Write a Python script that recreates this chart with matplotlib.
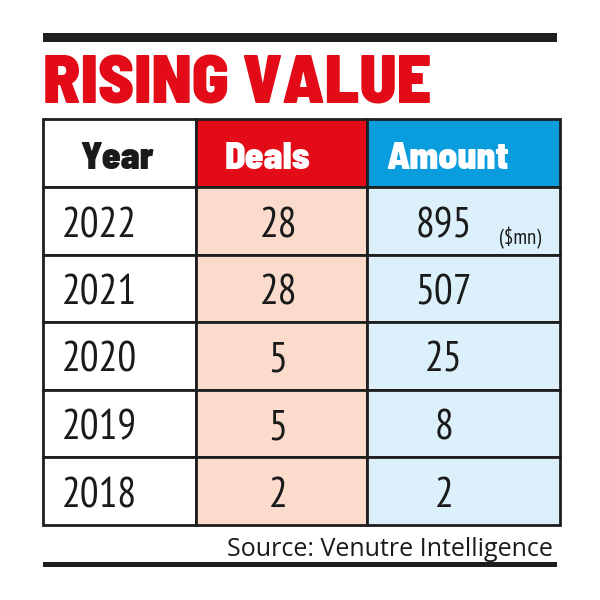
import matplotlib.pyplot as plt
from matplotlib.patches import Rectangle

TITLE = "RISING VALUE"
HEADERS = ["Year", "Deals", "Amount"]
YEARS = ["2022", "2021", "2020", "2019", "2018"]
DEALS = [28, 28, 5, 5, 2]
AMOUNT = [895, 507, 25, 8, 2]
UNIT = "($mn)"
SOURCE = "Source: Venutre Intelligence"

RED = "#e30b17"
BLUE = "#0a9ddd"
PEACH = "#fbdccc"
LIGHTBLUE = "#dcf0fc"
LINE = "#1e1e1e"
HEAVY = ["Barlow Semi Condensed", "DejaVu Sans"]
NARROW = ["PT Sans Narrow", "DejaVu Sans"]

# layout in pixel units (600x600 canvas)
COL_X = [43, 196, 367, 560]
HEAD_TOP, HEAD_BOT = 119, 187
ROW_H = 67.5

fig = plt.figure(figsize=(6, 6), dpi=100)
ax = fig.add_axes([0, 0, 1, 1])
ax.set_xlim(0, 600)
ax.set_ylim(600, 0)
ax.axis("off")

# top and bottom rules
ax.add_patch(Rectangle((43, 33), 514, 9, color=LINE, lw=0))
ax.add_patch(Rectangle((43, 562), 514, 5, color=LINE, lw=0))

ax.text(43, 103, TITLE, color=RED, fontsize=49, fontweight=900,
        family=HEAVY, va="baseline", ha="left")

# header row
head_fill = ["white", RED, BLUE]
head_color = ["#1a1a1a", "white", "white"]
head_cx = [117, 268, 448]
for i in range(3):
    ax.add_patch(Rectangle((COL_X[i], HEAD_TOP), COL_X[i + 1] - COL_X[i],
                           HEAD_BOT - HEAD_TOP, facecolor=head_fill[i],
                           edgecolor=LINE, lw=2))
    ax.text(head_cx[i], 169, HEADERS[i],
            color=head_color[i], fontsize=27, fontweight=900,
            family=HEAVY, ha="center", va="baseline")

# body rows
body_fill = ["white", PEACH, LIGHTBLUE]
for r, (yr, d, a) in enumerate(zip(YEARS, DEALS, AMOUNT)):
    top = HEAD_BOT + r * ROW_H
    for i in range(3):
        ax.add_patch(Rectangle((COL_X[i], top), COL_X[i + 1] - COL_X[i],
                               ROW_H, facecolor=body_fill[i],
                               edgecolor=LINE, lw=2))
    base = top + 50
    ax.text(62, base, yr, fontsize=30, family=NARROW, color="#1a1a1a",
            ha="left", va="baseline")
    ax.text(278, base, str(d), fontsize=30, family=NARROW, color="#1a1a1a",
            ha="center", va="baseline")
    ax.text(444, base, str(a), fontsize=30, family=NARROW, color="#1a1a1a",
            ha="center", va="baseline")
    if r == 0:
        ax.text(520, top + 57, UNIT, fontsize=15, family=NARROW,
                color="#1a1a1a", ha="center", va="baseline")

ax.text(553, 556, SOURCE, fontsize=18, family=["Open Sans", "DejaVu Sans"],
        color="#1a1a1a", ha="right", va="baseline")

fig.savefig("out.png", dpi=100)
